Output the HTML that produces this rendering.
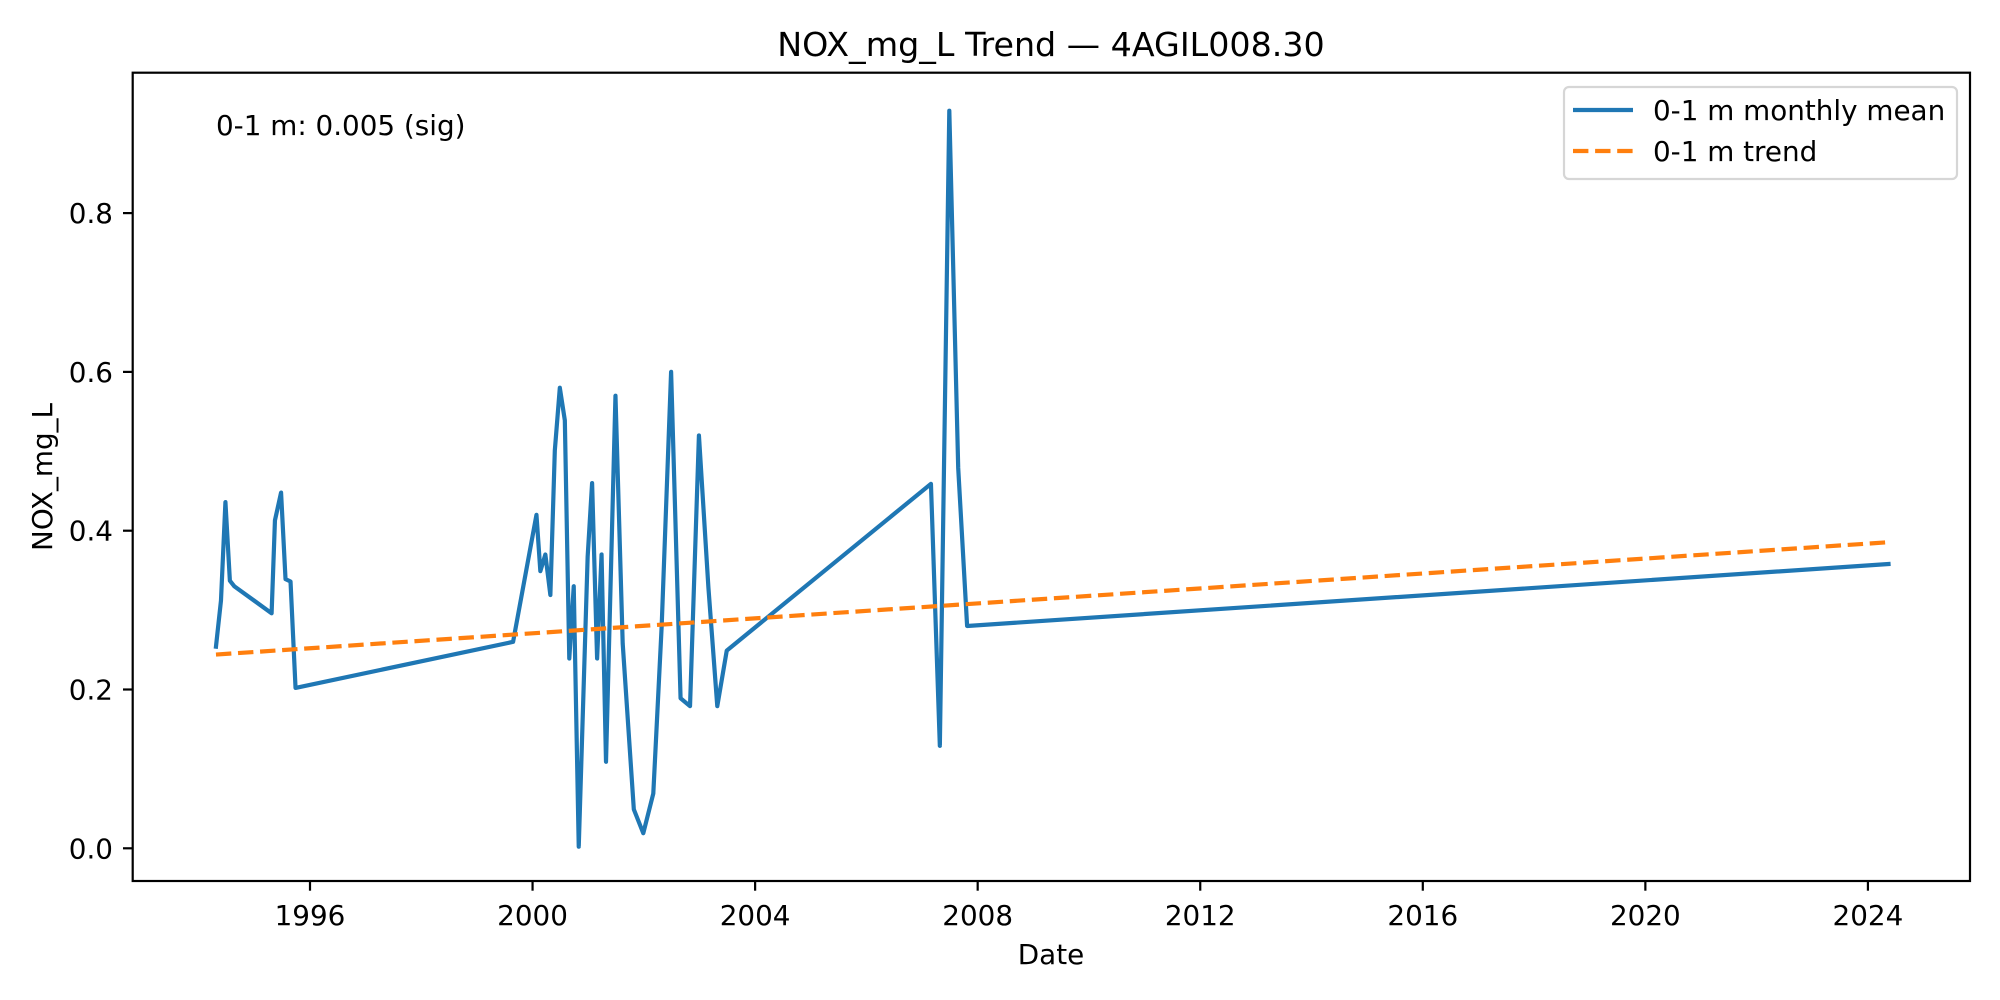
<!DOCTYPE html>
<html><head><meta charset="utf-8"><style>
html,body{margin:0;padding:0;background:#fff;}
svg{display:block;font-family:"DejaVu Sans","Liberation Sans",sans-serif;}
</style></head><body>
<svg id="chart" width="2000" height="1000" viewBox="0 0 2000 1000" xmlns="http://www.w3.org/2000/svg">
<rect x="0" y="0" width="2000" height="1000" fill="#fff"/>
<text x="1051" y="56" font-size="33.3" text-anchor="middle">NOX_mg_L Trend — 4AGIL008.30</text>
<g id="plot"></g>
<g id="axes"></g>
<text x="216" y="135" font-size="27.8">0-1 m: 0.005 (sig)</text>
<text x="1051" y="964" font-size="27.8" text-anchor="middle">Date</text>
<text x="0" y="0" font-size="27.8" text-anchor="middle" transform="translate(52,477) rotate(-90)">NOX_mg_L</text>
<g>
<rect x="1564" y="87" width="393" height="92" rx="5" fill="#fff" fill-opacity="0.8" stroke="#d6d6d6" stroke-width="2.2"/>
<line x1="1573" y1="110" x2="1633" y2="110" stroke="#1f77b4" stroke-width="4.2"/>
<text x="1653" y="120" font-size="27.8">0-1 m monthly mean</text>
<line x1="1573" y1="151" x2="1633" y2="151" stroke="#ff7f0e" stroke-width="4.2" stroke-dasharray="15.4,6.7"/>
<text x="1653" y="161" font-size="27.8">0-1 m trend</text>
</g>
</svg>
<script>
const dates = [1994.31,1994.40,1994.48,1994.56,1994.64,1995.31,1995.37,1995.48,1995.56,1995.65,1995.74,1999.65,2000.07,2000.14,2000.23,2000.32,2000.40,2000.49,2000.58,2000.66,2000.74,2000.83,2000.99,2001.07,2001.16,2001.24,2001.32,2001.49,2001.62,2001.82,2001.99,2002.17,2002.32,2002.49,2002.66,2002.83,2002.99,2003.16,2003.32,2003.49,2007.16,2007.32,2007.49,2007.65,2007.81,2024.37];
const values = [0.254,0.312,0.436,0.337,0.330,0.296,0.413,0.448,0.339,0.336,0.202,0.260,0.420,0.349,0.370,0.319,0.501,0.580,0.539,0.239,0.330,0.002,0.367,0.460,0.239,0.370,0.109,0.570,0.258,0.049,0.019,0.069,0.279,0.600,0.189,0.179,0.520,0.329,0.179,0.249,0.459,0.129,0.929,0.479,0.280,0.358];
const trendDates = [1994.31,2024.37];
const trendValues = [0.244,0.3855];
const xTicks = [1996,2000,2004,2008,2012,2016,2020,2024];
const yTicks = [0.0,0.2,0.4,0.6,0.8];
const yTickLabels = ["0.0","0.2","0.4","0.6","0.8"];

const NS="http://www.w3.org/2000/svg";
const L=132.7,R=1970,T=72.7,B=881;
function xs(yr){return 310+(yr-1996)*55.64;}
function ys(v){return 848.3-v*794;}
function mk(tag,attrs,parent){const e=document.createElementNS(NS,tag);for(const k in attrs)e.setAttribute(k,attrs[k]);parent.appendChild(e);return e;}
const plot=document.getElementById('plot'), axes=document.getElementById('axes');

const trend=mk('polyline',{points:trendDates.map((d,i)=>xs(d)+','+ys(trendValues[i])).join(' '),fill:'none',stroke:'#ff7f0e','stroke-width':4.2,'stroke-dasharray':'15.4,6.7'},plot);


const line=mk('polyline',{points:dates.map((d,i)=>xs(d)+','+ys(values[i])).join(' '),fill:'none',stroke:'#1f77b4','stroke-width':4.2,'stroke-linejoin':'round','stroke-linecap':'square'},plot);


plot.parentNode.insertBefore(trend,null);
plot.appendChild(trend);

const frame=mk('rect',{x:L,y:T,width:R-L,height:B-T,fill:'none',stroke:'#000','stroke-width':2.2},axes);


xTicks.forEach(t=>{
  const x=xs(t);
  const tk=mk('line',{x1:x,y1:B,x2:x,y2:B+9.7,stroke:'#000','stroke-width':2.2},axes);
  
  
  const tx=mk('text',{x:x,y:925,'font-size':27.8,'text-anchor':'middle'},axes);
  
  
  tx.textContent=String(t);
});
yTicks.forEach((t,i)=>{
  const y=ys(t);
  const tk=mk('line',{x1:L-9.7,y1:y,x2:L,y2:y,stroke:'#000','stroke-width':2.2},axes);
  
  
  const tx=mk('text',{x:113,y:y+10,'font-size':27.8,'text-anchor':'end'},axes);
  
  
  tx.textContent=yTickLabels[i];
});
</script>
</body></html>
